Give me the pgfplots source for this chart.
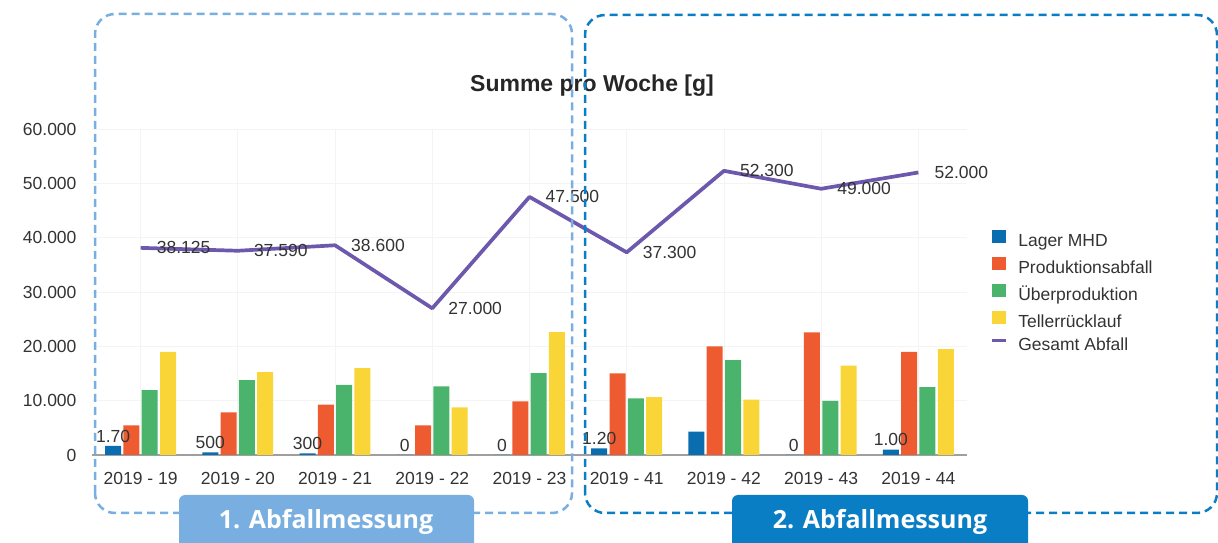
\documentclass[border=0pt]{standalone}
\usepackage{pgfplots}
\usepackage{pgfplotstable}
\pgfplotsset{compat=1.18}
\usepackage{fontspec}
\setmainfont{Liberation Sans}
\newfontfamily\boxfont{Open Sans}
\definecolor{cBlue}{HTML}{0A6DAF}
\definecolor{cOrange}{HTML}{EE5B30}
\definecolor{cGreen}{HTML}{4BB46C}
\definecolor{cYellow}{HTML}{F9D537}
\definecolor{cPurple}{HTML}{6C58AC}
\definecolor{txt}{HTML}{333333}
\definecolor{boxA}{HTML}{79AFE0}
\definecolor{boxB}{HTML}{0A7EC5}
\pgfplotstableread{
x blue orange green yellow total
0 1700 5450 11950 19000 38125
1 500 7850 13800 15250 37590
2 300 9250 12900 16000 38600
3 0 5450 12650 8750 27000
4 0 9850 15050 22600 47500
5 1200 15000 10400 10650 37300
6 4300 20000 17450 10200 52300
7 0 22550 9950 16450 49000
8 1000 19000 12500 19500 52000
}\data
\newcommand\tfont{\fontsize{17.5}{20}\selectfont}
\begin{document}
\begin{tikzpicture}[x=1pt,y=1pt]
\begin{axis}[
  set layers,
  at={(92pt,88pt)}, anchor=south west,
  scale only axis, width=875pt, height=326pt,
  xmin=-0.5, xmax=8.5, ymin=0, ymax=60000,
  clip=false,
  axis x line*=bottom, axis y line*=left,
  y axis line style={draw=none},
  x axis line style={draw=gray!75, line width=1.3pt, -},
  major tick length=0pt, tick style={draw=none},
  grid=major, grid style={draw=gray!9, line width=0.8pt},
  xtick={0,...,8},
  xticklabels={2019 - 19,2019 - 20,2019 - 21,2019 - 22,2019 - 23,2019 - 41,2019 - 42,2019 - 43,2019 - 44},
  ytick={0,10000,...,60000},
  scaled y ticks=false,
  /pgf/number format/.cd, 1000 sep={.}, assume math mode=true, /pgfplots/.cd,
  tick label style={font=\tfont, text=txt},
  yticklabel style={xshift=-12pt},
  xticklabel style={yshift=-14pt},
  ybar=2.3pt, bar width=16pt,
  legend style={draw=none, fill=none, at={(1.023,0.5)}, anchor=west, font=\tfont, text=txt,
    nodes={inner sep=0pt, text height=13pt, text depth=4pt}, row sep=6pt,
    /tikz/every odd column/.style={column sep=11pt}},
  legend cell align=left,
]
\addplot[forget plot, ybar, bar shift=-27.5pt, draw=none, fill=none, on layer=axis grid,
  nodes near coords, point meta=explicit symbolic,
  nodes near coords style={anchor=south, font=\tfont, text=txt}]
  coordinates {(0,1700)[1.70] (1,500)[500] (2,300)[300] (3,0)[0] (4,0)[0] (5,1200)[1.20] (7,0)[0] (8,1000)[1.00]};
\addplot[ybar, bar shift=-27.5pt, fill=cBlue, draw=none,
  legend image code/.code={\fill[cBlue] (0pt,-0.5pt) rectangle (14pt,12.5pt);}]
  table[x=x,y=blue]{\data};
\addlegendentry{Lager MHD}
\addplot[ybar, bar shift=-9.2pt, fill=cOrange, draw=none,
  legend image code/.code={\fill[cOrange] (0pt,-0.5pt) rectangle (14pt,12.5pt);}]
  table[x=x,y=orange]{\data};
\addlegendentry{Produktionsabfall}
\addplot[ybar, bar shift=9.1pt, fill=cGreen, draw=none,
  legend image code/.code={\fill[cGreen] (0pt,-0.5pt) rectangle (14pt,12.5pt);}]
  table[x=x,y=green]{\data};
\addlegendentry{Überproduktion}
\addplot[ybar, bar shift=27.4pt, fill=cYellow, draw=none,
  legend image code/.code={\fill[cYellow] (0pt,-0.5pt) rectangle (14pt,12.5pt);}]
  table[x=x,y=yellow]{\data};
\addlegendentry{Tellerrücklauf}
\addplot[sharp plot, cPurple, line width=3.7pt, mark=none, line join=round,
  nodes near coords, point meta=explicit symbolic,
  nodes near coords style={anchor=west, xshift=11pt, font=\tfont, text=txt},
  legend image code/.code={\draw[cPurple, line width=3pt] (0pt,6pt) -- (14pt,6pt);}]
  coordinates {(0,38125)[38.125] (1,37590)[37.590] (2,38600)[38.600] (3,27000)[27.000] (4,47500)[47.500] (5,37300)[37.300] (6,52300)[52.300] (7,49000)[49.000] (8,52000)[52.000]};
\addlegendentry{Gesamt Abfall}
\end{axis}
\node[font=\fontsize{23}{26}\selectfont\bfseries, text=black!85] at (592,457) {Summe pro Woche [g]};
\draw[boxA, line width=2.5pt, dash pattern=on 8pt off 5pt, rounded corners=20pt] (95,30) rectangle (572,529);
\draw[boxB, line width=2.5pt, dash pattern=on 8pt off 5pt, rounded corners=20pt] (585,30) rectangle (1217,528);
\fill[boxA, rounded corners=6pt] (179,-10) rectangle (474,48);
\fill[boxB, rounded corners=6pt] (732,-10) rectangle (1028,48);
\node[anchor=base, font=\boxfont\fontsize{25}{28}\selectfont\bfseries, text=white] at (326,14) {1. Abfallmessung};
\node[anchor=base, font=\boxfont\fontsize{25}{28}\selectfont\bfseries, text=white] at (880,14) {2. Abfallmessung};
\pgfresetboundingbox
\path[use as bounding box] (0,0) rectangle (1218,543);
\end{tikzpicture}
\end{document}
